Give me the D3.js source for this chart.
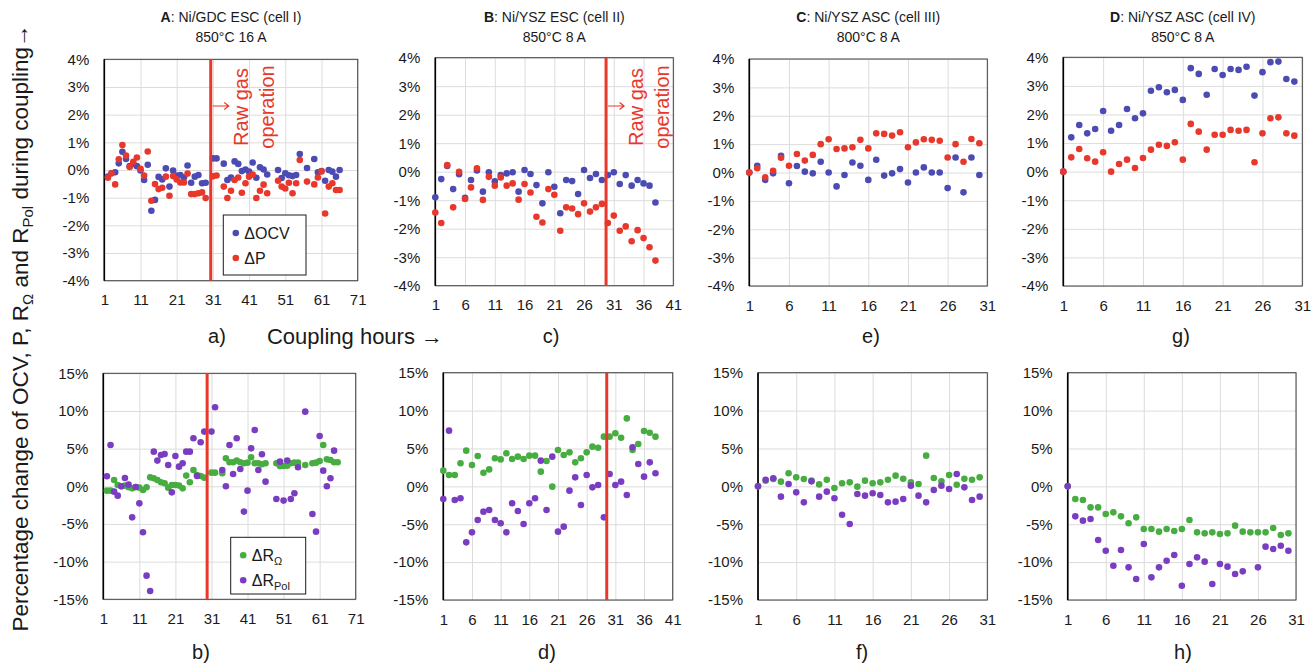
<!DOCTYPE html>
<html>
<head>
<meta charset="utf-8">
<script src="https://cdn.jsdelivr.net/npm/d3@7"></script>
<style>
  body { margin: 0; background: #fff; }
  svg { font-family: "Liberation Sans", Arial, sans-serif; }
</style>
</head>
<body>
<svg id="chart"></svg>
<script>
const font = '"Liberation Sans", Arial, sans-serif';

// ---- data (percent change vs. coupling hour) ----
// cell I (A / b)
const hoursA = [2,3,4,5,6,7,8,9,10,11,12,13,14,15,16,17,18,19,20,21,22,23,24,25,26,27,28,29,
  31,32,34,35,36,37,38,39,40,41,42,43,44,45,46,49,50,51,52,53,54,55,57,59,60,61,62,63,64,65,66];
const ocvA = [-0.24,-0.12,-0.08,0.24,0.66,0.40,0.14,0.22,0.14,-0.02,-0.36,0.19,-1.47,-1.08,-0.25,-0.34,0.06,-0.60,-0.02,-0.20,-0.18,-0.27,0.16,-0.46,-0.24,-0.18,-0.48,-0.46,
  0.42,0.42,0.23,-0.36,-0.27,0.31,0.22,-0.04,0.02,-0.06,0.27,-0.28,0.10,0.02,-0.16,0.0,-0.29,-0.12,-0.19,-0.22,-0.18,0.58,0.07,0.40,-0.08,-0.04,-0.39,0.0,-0.06,-0.24,0.0];
const powerA = [-0.28,-0.12,-0.52,0.39,0.90,0.52,0.11,0.30,0.45,0.04,-0.20,0.67,-1.11,-0.51,-0.69,-0.64,-0.24,-0.93,-0.22,-0.34,-0.45,-0.45,-0.13,-0.87,-0.87,-0.84,-0.81,-1.01,
  -0.23,-0.20,-0.60,-1.01,-0.75,-0.36,-0.27,-0.82,-0.48,-0.24,-0.16,-1.01,-0.75,-0.53,-0.84,-0.39,-0.60,-0.67,-0.46,-0.84,-0.48,0.36,-0.42,-0.52,-0.27,-0.05,-1.57,-0.60,-0.48,-0.72,-0.72];
const rOhmA = [-0.58,-0.58,0.84,0.18,0.0,0.09,-0.13,-0.27,-0.09,-0.18,-0.49,-0.13,1.19,1.06,0.84,0.53,0.40,-0.18,0.18,0.18,0.09,-0.27,1.42,0.53,2.17,1.50,1.37,1.15,
  1.81,1.81,1.73,3.72,3.19,3.19,3.41,3.19,3.05,3.14,3.85,3.05,3.05,2.92,3.05,3.05,2.70,2.70,2.74,3.05,3.14,3.14,2.83,3.05,3.14,3.36,5.49,3.58,3.50,3.19,3.19];
const rPolA = [1.33,5.49,-0.71,-1.24,0,1.11,0.22,-4.12,-0.09,-2.26,-6.1,-11.86,-13.9,4.6,3.41,4.16,4.29,2.83,-0.8,4.03,2.61,3.05,4.6,4.6,6.37,1.37,5.84,7.26,
  7.26,10.49,2.17,0,5.49,1.64,6.37,2.30,-3.36,-0.58,5.04,7.48,2.17,4.25,0.62,-1.68,3.27,-1.90,3.41,-1.68,-0.93,2.52,9.91,-3.67,-6.02,6.68,2.08,0,1.06,4.73,null];

// cell II (B / d)
const hoursB = [1,2,3,4,5,6,7,8,9,10,11,12,13,14,15,16,17,18,19,20,21,22,23,24,25,26,27,28,29,30,31,32,33,34,35,36,37,38];
const ocvB = [-0.90,-0.26,0.20,-0.61,-0.09,-0.92,-0.29,0.04,-0.70,-0.02,-0.34,-0.12,-0.06,-0.02,-0.70,0.06,-0.08,-0.47,-1.11,-0.02,
  -0.53,-1.46,-0.29,-0.33,-0.78,0.06,-0.22,-0.08,-0.29,-0.12,-0.02,-0.43,-0.12,-0.49,-0.29,-0.41,-0.49,-1.08];
const powerB = [-1.43,-1.80,0.23,-1.25,0.0,-0.96,-0.55,0.12,-0.99,-0.18,-0.49,-0.20,-0.49,-0.41,-0.98,-0.43,-0.73,-1.58,-1.78,-0.61,
  -0.81,-2.07,-1.25,-1.29,-1.49,-1.11,-1.40,-1.25,-1.13,-1.80,-1.54,-2.07,-1.92,-2.44,-2.05,-2.33,-2.65,-3.12];
const rOhmB = [2.07,1.50,1.50,3.04,4.71,2.82,4.00,1.80,2.24,3.70,3.56,4.36,3.61,3.92,3.61,4.05,4.05,1.94,3.34,-0.04,
  4.80,4.14,4.49,3.17,3.70,4.49,5.24,5.10,6.56,6.56,7.00,6.42,8.97,4.80,5.59,7.30,7.08,6.56];
const rPolB = [-1.67,7.35,-1.80,-1.58,-7.39,-6.07,-4.44,-3.34,-3.12,-4.44,-4.88,-6.07,-2.24,-3.26,-4.97,-2.24,-1.58,3.39,-3.12,3.92,
  -5.98,-5.32,-0.57,1.19,-2.46,1.50,-0.13,0.18,-4.09,1.63,0.18,0.62,-1.14,5.15,2.95,1.28,3.17,1.72];

// cell III (C / f)
const hoursC = [1,2,3,4,5,6,7,8,9,10,11,12,13,14,15,16,17,18,19,20,21,22,23,24,25,26,27,28,29,30];
const ocvC = [0,0.24,-0.26,-0.03,0.59,-0.38,0.23,0.03,-0.03,0.38,0.0,-0.49,-0.09,0.35,0.24,-0.26,0.45,-0.11,-0.03,0.12,
  -0.35,0.0,0.18,0.0,0.0,-0.55,0.53,-0.70,0.53,-0.09];
const powerC = [0,0.15,-0.17,0.06,0.52,0.24,0.65,0.42,0.62,1.00,1.17,0.83,0.85,0.89,1.15,0.85,1.38,1.36,1.30,1.42,
  0.89,1.06,1.17,1.15,1.12,0.53,1.00,0.38,1.18,1.03];
const rOhmC = [0,0.75,0.97,0.62,1.72,1.19,0.97,0.75,0.26,0.88,-0.22,0.40,0.53,-0.04,0.75,0.40,0.53,0.88,1.41,1.01,
  0.53,0.31,4.05,1.10,0.66,1.50,0.22,1.01,0.88,1.19];
const rPolC = [0,0.88,1.06,-1.36,0.31,-0.79,-2.11,0.66,-1.36,-0.70,-1.58,-3.74,-4.97,-1.01,-1.23,-0.92,-1.14,-2.11,-2.02,-1.67,
  0.09,-1.23,-2.11,-0.48,0.09,-0.35,1.63,-0.13,-1.80,-1.36];

// cell IV (D / h)
const hoursD = [1,2,3,4,5,6,7,8,9,10,11,12,13,14,15,16,17,18,19,20,21,22,23,24,25,26,27,28,29,30];
const ocvD = [0,1.20,1.63,1.34,1.49,2.12,1.43,1.63,2.19,1.87,2.04,2.83,2.95,2.78,2.86,2.51,3.62,3.42,2.69,3.59,
  3.38,3.59,3.56,3.67,2.66,3.48,3.83,3.85,3.24,3.15];
const powerD = [0,0.50,0.79,0.47,0.35,0.68,0,0.27,0.42,0.13,0.48,0.77,0.94,0.90,1.03,0.42,1.67,1.40,0.77,1.29,
  1.29,1.46,1.43,1.46,0.33,1.34,1.87,1.90,1.34,1.26];
const rOhmD = [0,-1.67,-1.80,-2.77,-2.77,-3.65,-3.43,-3.96,-4.88,-4.09,-5.63,-5.63,-5.98,-5.63,-5.90,-5.63,-4.44,-6.07,-6.20,-6.07,
  -6.29,-6.20,-5.19,-5.98,-6.07,-6.07,-6.07,-5.50,-6.42,-6.20];
const rPolD = [0,-3.96,-4.53,-4.31,-7.08,-8.49,-10.47,-8.40,-10.69,-12.23,-7.61,-12.01,-10.69,-9.81,-9.06,-13.11,-10.25,-9.37,-9.94,-12.89,
  -10.25,-10.60,-11.57,-11.22,null,-10.69,-7.96,-8.27,-7.83,-8.49];

// tick labels
const xTicksA = [1,11,21,31,41,51,61,71];
const xTicksB = [1,6,11,16,21,26,31,36,41];
const xTicksCD = [1,6,11,16,21,26,31];
const yTicksTop = [-4,-3,-2,-1,0,1,2,3,4];
const yTicksBottom = [-15,-10,-5,0,5,10,15];

// start of raw gas operation (hour)
const rawGasA = { top: 30.4, bottom: 29.8 };
const rawGasB = { top: 29.7, bottom: 29.5 };

const titles = [
  { letter: "A", name: ": Ni/GDC ESC (cell I)", cond: "850°C 16 A" },
  { letter: "B", name: ": Ni/YSZ ESC (cell II)", cond: "850°C 8 A" },
  { letter: "C", name: ": Ni/YSZ ASC (cell III)", cond: "800°C 8 A" },
  { letter: "D", name: ": Ni/YSZ ASC (cell IV)", cond: "850°C 8 A" }
];

const blue = "#4b4bb3";
const red = "#e8382b";
const green = "#47ad41";
const purple = "#7a3dc2";
const ink = "#1a1a1a";

const svg = d3.select("#chart").attr("width", 1311).attr("height", 664);

// plot boxes: [left, top, right, bottom]
const panels = [
  { box: [104.3, 59.3, 357.7, 280.7], hours: hoursA, xMax: 71, xTicks: xTicksA, yTicks: yTicksTop,
    series: [[ocvA, blue], [powerA, red]], rawGas: rawGasA.top, label: "a)", labelX: 217 },
  { box: [435.3, 57.7, 673.3, 285.7], hours: hoursB, xMax: 41, xTicks: xTicksB, yTicks: yTicksTop,
    series: [[ocvB, blue], [powerB, red]], rawGas: rawGasB.top, label: "c)", labelX: 551 },
  { box: [749.3, 59, 987.3, 286], hours: hoursC, xMax: 31, xTicks: xTicksCD, yTicks: yTicksTop,
    series: [[ocvC, blue], [powerC, red]], label: "e)", labelX: 871 },
  { box: [1063.3, 57.3, 1302.3, 286], hours: hoursD, xMax: 31, xTicks: xTicksCD, yTicks: yTicksTop,
    series: [[ocvD, blue], [powerD, red]], label: "g)", labelX: 1181 },
  { box: [103.3, 373.3, 355.7, 599.3], hours: hoursA, xMax: 71, xTicks: xTicksA, yTicks: yTicksBottom,
    series: [[rOhmA, green], [rPolA, purple]], rawGas: rawGasA.bottom, label: "b)", labelX: 201 },
  { box: [443.3, 372.7, 672.7, 600], hours: hoursB, xMax: 41, xTicks: xTicksB, yTicks: yTicksBottom,
    series: [[rOhmB, green], [rPolB, purple]], rawGas: rawGasB.bottom, label: "d)", labelX: 547 },
  { box: [758, 372.7, 987.3, 600], hours: hoursC, xMax: 31, xTicks: xTicksCD, yTicks: yTicksBottom,
    series: [[rOhmC, green], [rPolC, purple]], label: "f)", labelX: 862 },
  { box: [1067.7, 372.7, 1296, 600], hours: hoursD, xMax: 31, xTicks: xTicksCD, yTicks: yTicksBottom,
    series: [[rOhmD, green], [rPolD, purple]], label: "h)", labelX: 1183 }
];

const drawPanel = (p, i) => {
  const [left, top, right, bottom] = p.box;
  const x = d3.scaleLinear().domain([1, p.xMax]).range([left, right]);
  const y = d3.scaleLinear()
    .domain([p.yTicks[0], p.yTicks[p.yTicks.length - 1]])
    .range([bottom, top]);
  const g = svg.append("g");

  // grid
  g.append("g")
    .attr("transform", "translate(0," + bottom + ")")
    .call(d3.axisBottom(x).tickValues(p.xTicks).tickSize(-(bottom - top)).tickFormat(""))
    .call((s) => s.select(".domain").remove())
    .call((s) => s.selectAll("line").attr("stroke", "#dcdcdc"));
  g.append("g")
    .attr("transform", "translate(" + left + ",0)")
    .call(d3.axisLeft(y).tickValues(p.yTicks).tickSize(-(right - left)).tickFormat(""))
    .call((s) => s.select(".domain").remove())
    .call((s) => s.selectAll("line").attr("stroke", "#dcdcdc"));

  // frame
  g.append("rect")
    .attr("x", left).attr("y", top)
    .attr("width", right - left).attr("height", bottom - top)
    .attr("fill", "none").attr("stroke", "#404040").attr("stroke-width", 1);
  g.append("line")
    .attr("x1", left).attr("x2", left).attr("y1", top).attr("y2", bottom)
    .attr("stroke", "#000").attr("stroke-width", 1.6);

  // tick labels
  g.append("g")
    .attr("transform", "translate(0," + bottom + ")")
    .call(d3.axisBottom(x).tickValues(p.xTicks).tickSize(0).tickPadding(14).tickFormat(d3.format("d")))
    .attr("font-size", 15).attr("font-family", font)
    .call((s) => s.select(".domain").remove())
    .call((s) => s.selectAll("text").attr("fill", ink));
  g.append("g")
    .attr("transform", "translate(" + left + ",0)")
    .call(d3.axisLeft(y).tickValues(p.yTicks).tickSize(0).tickPadding(15).tickFormat((d) => d + "%"))
    .attr("font-size", 15).attr("font-family", font)
    .call((s) => s.select(".domain").remove())
    .call((s) => s.selectAll("text").attr("fill", ink));

  // points
  p.series.forEach(([values, color]) => {
    g.append("g")
      .selectAll("circle")
      .data(p.hours.map((h, k) => [h, values[k]]).filter((d) => d[1] !== null))
      .enter()
      .append("circle")
      .attr("cx", (d) => x(d[0]))
      .attr("cy", (d) => y(d[1]))
      .attr("r", 3.3)
      .attr("fill", color);
  });

  // raw gas marker
  if (p.rawGas !== undefined) {
    const lx = x(p.rawGas);
    g.append("line")
      .attr("x1", lx).attr("x2", lx).attr("y1", top).attr("y2", bottom)
      .attr("stroke", red).attr("stroke-width", 3);
    if (i < 4) {
      g.append("path")
        .attr("d", `M${lx + 2},106H${lx + 18}M${lx + 13.5},102.5L${lx + 18},106L${lx + 13.5},109.5`)
        .attr("fill", "none").attr("stroke", red).attr("stroke-width", 1.2);
      [["Raw gas", 30], ["operation", 56]].forEach(([t, off]) => {
        g.append("text")
          .attr("transform", "translate(" + (lx + off) + ",107) rotate(-90)")
          .attr("text-anchor", "middle").attr("dy", "0.35em")
          .attr("font-size", 20).attr("fill", red)
          .text(t);
      });
    }
  }

  // sub label
  svg.append("text")
    .attr("x", p.labelX).attr("y", i < 4 ? 343 : 659)
    .attr("text-anchor", "middle").attr("font-size", 20).attr("fill", ink)
    .text(p.label);

  // title
  if (i < 4) {
    const t = titles[i];
    const cx = (left + right) / 2;
    const tt = svg.append("text").attr("x", cx).attr("y", 22)
      .attr("text-anchor", "middle").attr("font-size", 14).attr("fill", ink);
    tt.append("tspan").attr("font-weight", "bold").text(t.letter);
    tt.append("tspan").text(t.name);
    svg.append("text").attr("x", cx).attr("y", 42)
      .attr("text-anchor", "middle").attr("font-size", 14).attr("fill", ink)
      .text(t.cond);
  }
};

panels.forEach(drawPanel);

// legends
const drawLegend = (bx, by, bw, bh, items) => {
  const lg = svg.append("g");
  lg.append("rect").attr("x", bx).attr("y", by).attr("width", bw).attr("height", bh)
    .attr("fill", "#fff").attr("stroke", ink).attr("stroke-width", 1);
  items.forEach(([color, main, sub], k) => {
    const cy = by + 18 + k * 25;
    lg.append("circle").attr("cx", bx + 12.5).attr("cy", cy).attr("r", 3.3).attr("fill", color);
    const t = lg.append("text").attr("x", bx + 21).attr("y", cy).attr("dy", "0.35em")
      .attr("font-size", 16).attr("fill", ink);
    t.append("tspan").text(main);
    if (sub) t.append("tspan").attr("font-size", 11).attr("dy", 4).text(sub);
  });
};
drawLegend(223.3, 215, 82.7, 60, [[blue, "ΔOCV"], [red, "ΔP"]]);
drawLegend(230.7, 537.3, 75, 56.7, [[green, "ΔR", "Ω"], [purple, "ΔR", "Pol"]]);

// shared axis titles
svg.append("text")
  .attr("x", 355).attr("y", 344)
  .attr("text-anchor", "middle").attr("font-size", 22).attr("fill", ink)
  .text("Coupling hours →");

const yt = svg.append("text")
  .attr("transform", "translate(20,328) rotate(-90)")
  .attr("text-anchor", "middle").attr("dy", "0.35em")
  .attr("font-size", 22.5).attr("fill", ink);
yt.append("tspan").text("Percentage change of OCV, P, R");
yt.append("tspan").attr("font-size", 15).attr("dy", 5).text("Ω");
yt.append("tspan").attr("dy", -5).text(" and R");
yt.append("tspan").attr("font-size", 15).attr("dy", 5).text("Pol");
yt.append("tspan").attr("dy", -5).text(" during coupling→");
</script>
</body>
</html>
